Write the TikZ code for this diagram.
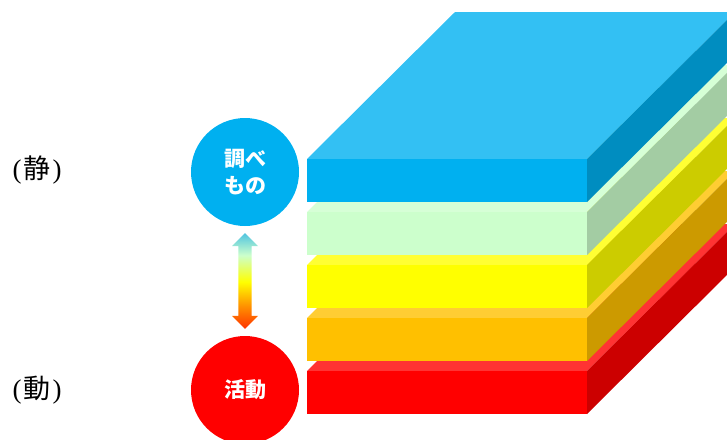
\documentclass[tikz,border=0pt]{standalone}
\usepackage{fontspec}
\newfontfamily\cjk{Noto Sans CJK JP}
\setmainfont{Liberation Serif}
\usetikzlibrary{calc}
\definecolor{bluef}{HTML}{00B0F0}\definecolor{bluet}{HTML}{33C0F3}\definecolor{blues}{HTML}{008DC0}
\definecolor{greenf}{HTML}{CCFFCC}\definecolor{greent}{HTML}{D6FFD6}\definecolor{greens}{HTML}{A3CCA3}
\definecolor{yelf}{HTML}{FFFF00}\definecolor{yelt}{HTML}{FFFF33}\definecolor{yels}{HTML}{CCCC00}
\definecolor{oraf}{HTML}{FFC000}\definecolor{orat}{HTML}{FFCD33}\definecolor{oras}{HTML}{CC9A00}
\definecolor{redf}{HTML}{FF0000}\definecolor{redt}{HTML}{FF3333}\definecolor{reds}{HTML}{CC0000}
\definecolor{agtop}{RGB}{80,196,224}\definecolor{agmint}{RGB}{204,255,204}
\definecolor{agor}{RGB}{255,150,0}\definecolor{agbot}{RGB}{255,51,0}
\pgfdeclareverticalshading{arrowgrad}{100bp}{color(0bp)=(agbot); color(25bp)=(agbot); color(37.5bp)=(agor); color(49.5bp)=(yelf); color(63.5bp)=(agmint); color(75bp)=(agtop); color(100bp)=(agtop)}
\newcommand{\layer}[5]{% top y, bottom y, front, top, side
  \fill[#4] (307,#1) -- (587,#1) -- (735,#1-147) -- (455,#1-147) -- cycle;
  \fill[#5] (587,#1) -- (735,#1-147) -- (735,#2-147) -- (587,#2) -- cycle;
  \fill[#3] (307,#1) rectangle (587,#2);
}
\begin{document}
\begin{tikzpicture}[x=1pt,y=-1pt,
  circ/.style={circle, minimum size=108pt, inner sep=0pt, text=white, align=center,
    font=\cjk\bfseries\fontsize{21}{27}\selectfont},
  side/.style={font=\fontsize{27}{30}\selectfont, inner sep=0pt}]
\useasboundingbox (0,0) rectangle (727,439);
\begin{scope}
\clip (0,0) rectangle (727,439);
\layer{371}{414}{redf}{redt}{reds}
\layer{318}{361}{oraf}{orat}{oras}
\layer{265}{308}{yelf}{yelt}{yels}
\layer{212}{255}{greenf}{greent}{greens}
\layer{159}{202}{bluef}{bluet}{blues}
\node[circ, fill=bluef] (c1) at (245,172) {調べ\\もの};
\node[circ, fill=redf] (c2) at (245,390) {活動};
\end{scope}
\coordinate (at) at ($(c1.south)+(0,7)$);
\coordinate (ab) at ($(c2.north)+(0,-7)$);
\path[shading=arrowgrad]
  (at) -- ($(at)+(13,13)$) -- ($(at)+(6.6,13)$) -- ($(ab)+(6.6,-13)$) -- ($(ab)+(13,-13)$)
  -- (ab) -- ($(ab)+(-13,-13)$) -- ($(ab)+(-6.6,-13)$) -- ($(at)+(-6.6,13)$) -- ($(at)+(-13,13)$) -- cycle;
\node[side] (s1) at (37,170) {(\hspace{2pt}\cjk 静\normalfont\hspace{2pt})};
\node[side] (s2) at (37,390) {(\hspace{2pt}\cjk 動\normalfont\hspace{2pt})};
\end{tikzpicture}
\end{document}
